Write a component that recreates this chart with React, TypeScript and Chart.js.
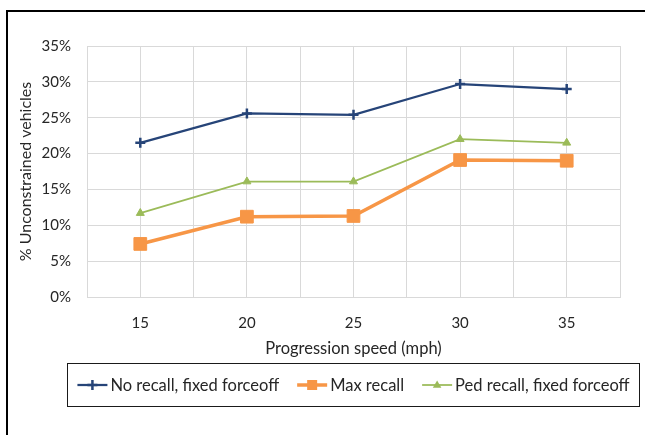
import React, { useEffect, useRef } from "react";
import { Chart, registerables } from "chart.js";

Chart.register(...registerables);

const categories = [15, 20, 25, 30, 35];
const noRecall = [21.5, 25.6, 25.4, 29.7, 29.0];
const maxRecall = [7.4, 11.2, 11.3, 19.1, 19.0];
const pedRecall = [11.7, 16.1, 16.1, 22.0, 21.5];
const seriesLabels = ["No recall, fixed forceoff", "Max recall", "Ped recall, fixed forceoff"];
const xTitle = "Progression speed (mph)";
const yTitle = "% Unconstrained vehicles";

const FONT = "Lato";
const TEXT = "#262626";
const GRID = "#d9d9d9";

function drawMarker(ctx: CanvasRenderingContext2D, style: string, x: number, y: number, r: number, color: string) {
  ctx.save();
  ctx.fillStyle = color;
  ctx.strokeStyle = color;
  if (style === "cross") {
    ctx.lineWidth = 2.5;
    ctx.beginPath();
    ctx.moveTo(x - r, y);
    ctx.lineTo(x + r, y);
    ctx.moveTo(x, y - r);
    ctx.lineTo(x, y + r);
    ctx.stroke();
  } else if (style === "rect") {
    ctx.fillRect(x - r, y - r, 2 * r, 2 * r);
  } else if (style === "triangle") {
    ctx.beginPath();
    ctx.moveTo(x, y - r);
    ctx.lineTo(x + r * 0.95, y + r * 0.6);
    ctx.lineTo(x - r * 0.95, y + r * 0.6);
    ctx.closePath();
    ctx.fill();
  }
  ctx.restore();
}

const framePlugin = {
  id: "frame",
  beforeDraw(chart: any) {
    const ctx = chart.ctx;
    ctx.save();
    ctx.fillStyle = "#ffffff";
    ctx.fillRect(0, 0, chart.width, chart.height);
    ctx.fillStyle = "#000000";
    ctx.fillRect(6, 10, chart.width - 6, 2);
    ctx.fillRect(6, 10, 2, chart.height - 10);
    ctx.restore();
  },
};

const legendPlugin = {
  id: "boxLegend",
  afterDraw(chart: any) {
    const ctx: CanvasRenderingContext2D = chart.ctx;
    const box = { x: 67.5, y: 363.5, w: 572, h: 43 };
    ctx.save();
    ctx.strokeStyle = "#1a1a1a";
    ctx.lineWidth = 1;
    ctx.strokeRect(box.x, box.y, box.w, box.h);
    ctx.font = `16.5px ${FONT}`;
    const lineLen = 30;
    const gapText = 3;
    const gapItem = 18;
    const items = chart.data.datasets.map((ds: any) => ({
      label: ds.label,
      color: ds.borderColor,
      width: ds.borderWidth,
      style: ds.pointStyle,
      tw: ctx.measureText(ds.label).width,
    }));
    const total = items.reduce((s: number, it: any) => s + lineLen + gapText + it.tw, 0) + gapItem * (items.length - 1);
    let x = box.x + (box.w - total) / 2;
    const cy = box.y + box.h / 2;
    for (const it of items) {
      ctx.strokeStyle = it.color;
      ctx.lineWidth = it.width;
      ctx.beginPath();
      ctx.moveTo(x, cy);
      ctx.lineTo(x + lineLen, cy);
      ctx.stroke();
      const r = it.style === "rect" ? 5 : it.style === "triangle" ? 4.5 : 5;
      drawMarker(ctx, it.style, x + lineLen / 2, cy, r, it.color);
      ctx.fillStyle = TEXT;
      ctx.textBaseline = "middle";
      ctx.textAlign = "left";
      ctx.fillText(it.label, x + lineLen + gapText, cy + 1);
      x += lineLen + gapText + it.tw + gapItem;
    }
    ctx.restore();
  },
};

export default function App() {
  const ref = useRef<HTMLCanvasElement | null>(null);
  useEffect(() => {
    if (!ref.current) return;
    const toPts = (vals: number[]) => categories.map((c, i) => ({ x: c, y: vals[i] }));
    const chart = new Chart(ref.current, {
      type: "line",
      data: {
        datasets: [
          {
            label: seriesLabels[0],
            data: toPts(noRecall),
            borderColor: "#264478",
            backgroundColor: "#264478",
            borderWidth: 2.25,
            pointStyle: "cross",
            pointRadius: 5,
            pointBorderWidth: 2.5,
          },
          {
            label: seriesLabels[1],
            data: toPts(maxRecall),
            borderColor: "#f79646",
            backgroundColor: "#f79646",
            borderWidth: 3.5,
            pointStyle: "rect",
            pointRadius: 9,
            pointBorderWidth: 1,
          },
          {
            label: seriesLabels[2],
            data: toPts(pedRecall),
            borderColor: "#9bbb59",
            backgroundColor: "#9bbb59",
            borderWidth: 1.75,
            pointStyle: "triangle",
            pointRadius: 4.6,
            pointBorderWidth: 1,
          },
        ],
      },
      options: {
        responsive: false,
        animation: false,
        layout: { padding: { left: 12, top: 46, right: 25, bottom: 73 } },
        plugins: { legend: { display: false }, tooltip: { enabled: false } },
        scales: {
          x: {
            type: "linear",
            min: 12.5,
            max: 37.5,
            afterFit: (s: any) => {
              s.height = 65;
            },
            ticks: {
              stepSize: 2.5,
              padding: 17,
              color: TEXT,
              font: { family: FONT, size: 15 },
              callback: (v: any) => (Number(v) % 5 === 0 ? String(v) : ""),
            },
            grid: { color: GRID, lineWidth: 1, drawTicks: false },
            border: { color: GRID },
            title: {
              display: true,
              text: xTitle,
              color: TEXT,
              font: { family: FONT, size: 16.5 },
              padding: { top: 4, bottom: 3 },
            },
          },
          y: {
            min: 0,
            max: 35,
            afterFit: (s: any) => {
              s.width = 75;
            },
            ticks: {
              stepSize: 5,
              padding: 16,
              color: TEXT,
              font: { family: FONT, size: 15 },
              callback: (v: any) => `${v}%`,
            },
            grid: { color: GRID, lineWidth: 1, drawTicks: false },
            border: { color: GRID },
            title: {
              display: true,
              text: yTitle,
              color: TEXT,
              font: { family: FONT, size: 16 },
              padding: { top: 4, bottom: 4 },
            },
          },
        },
      },
      plugins: [framePlugin, legendPlugin],
    });
    return () => chart.destroy();
  }, []);
  return (
    <div style={{ position: "fixed", left: 0, top: 0, width: 645, height: 435, background: "#fff" }}>
      <canvas ref={ref} width={645} height={435} style={{ display: "block" }} />
    </div>
  );
}
